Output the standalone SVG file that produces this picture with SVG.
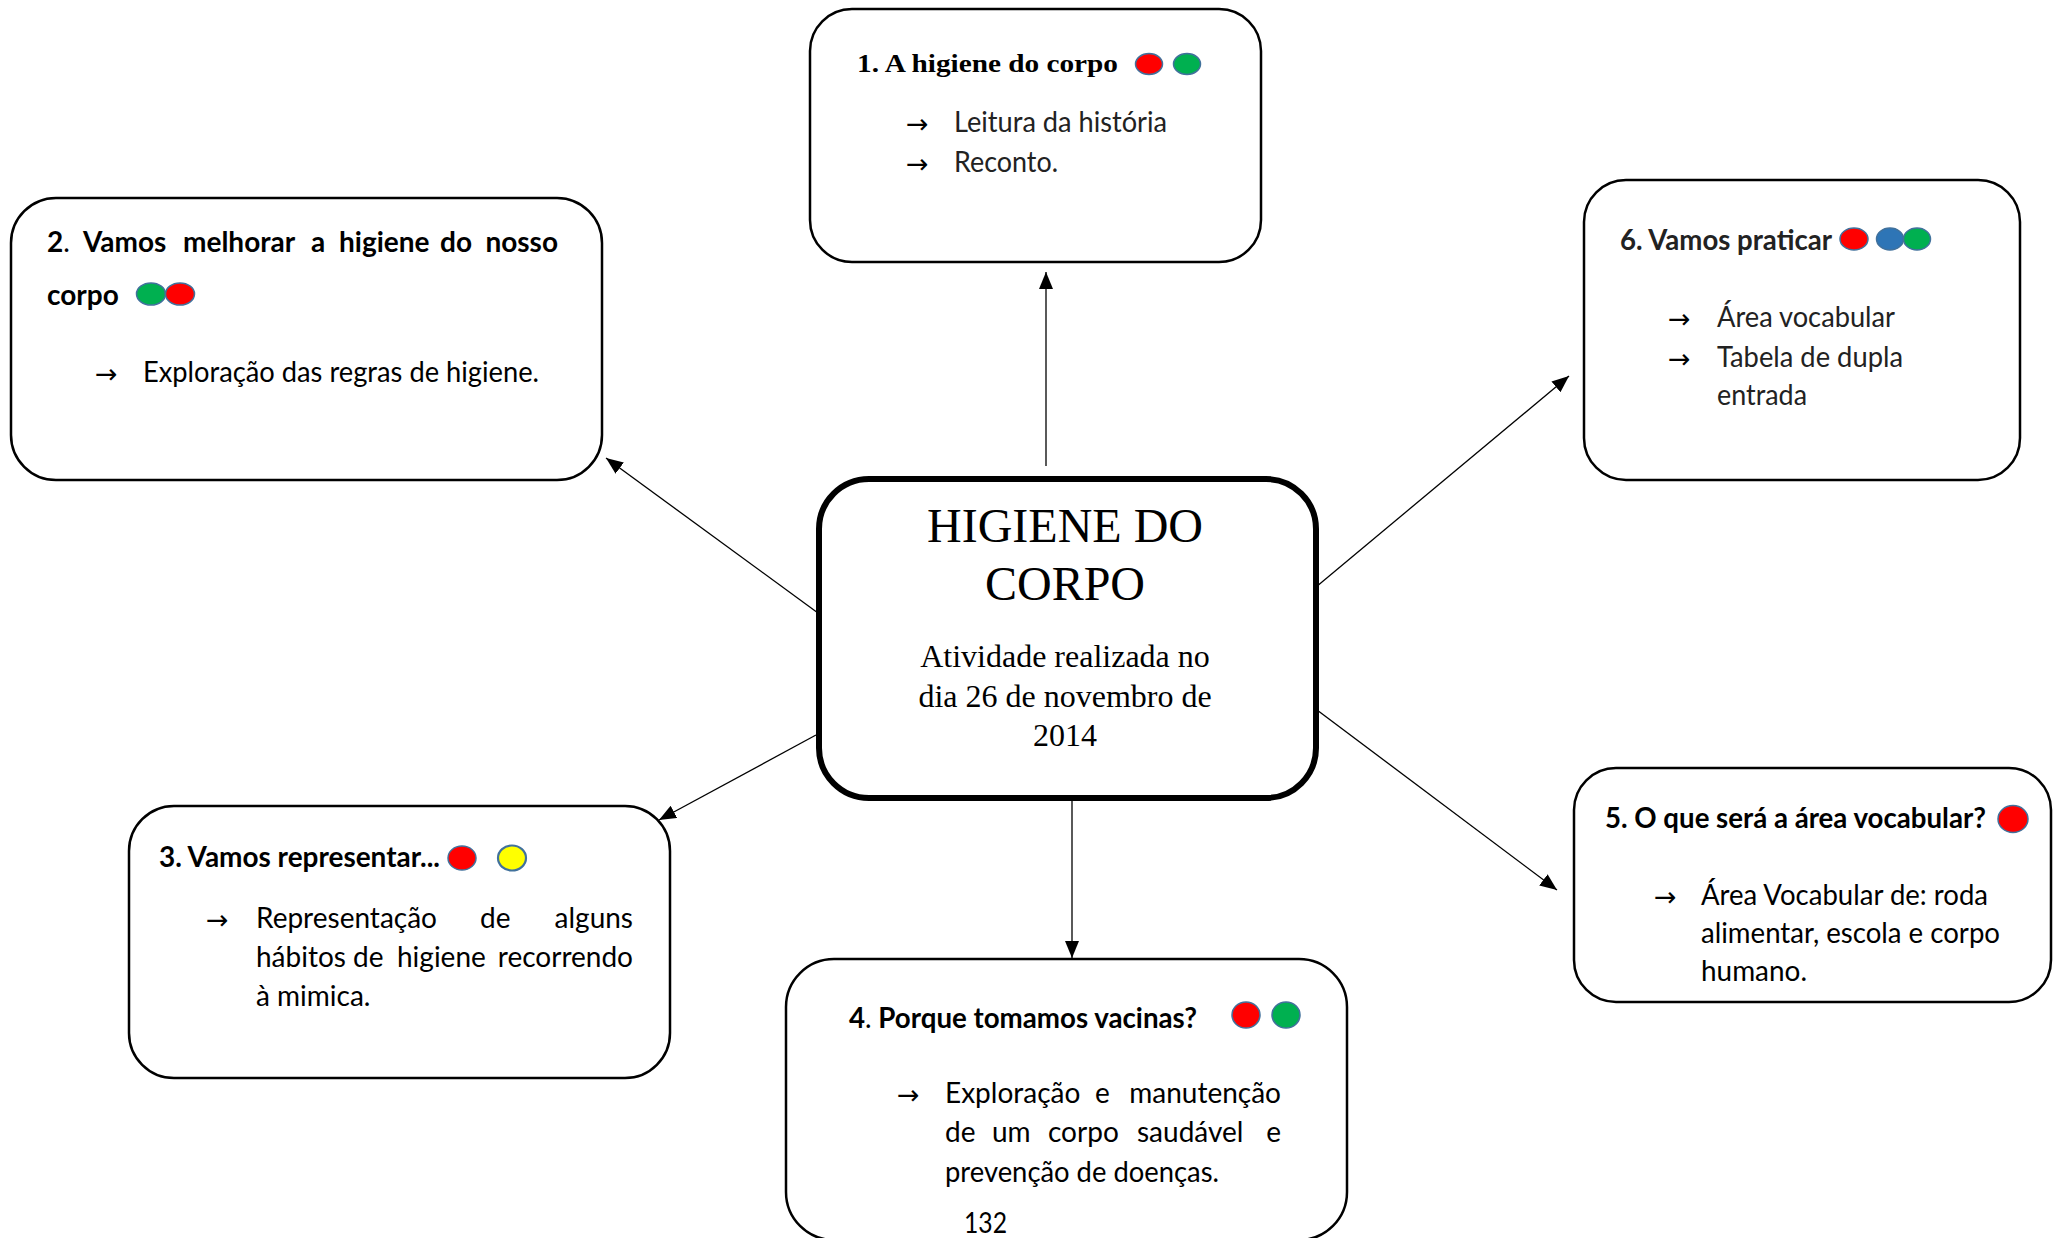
<svg xmlns="http://www.w3.org/2000/svg" width="2058" height="1238" viewBox="0 0 2058 1238">
<style>
.bg{fill:#fff}
.box{fill:#fff;stroke:#000;stroke-width:2.5}
.center{fill:#fff;stroke:#000;stroke-width:6}
.t{font-family:Lato,"Liberation Sans",sans-serif;font-size:28px;fill:#000}
.lt{fill:#222}
.b{font-weight:bold}
.n{font-weight:normal}
.arr{font-family:"DejaVu Sans",sans-serif;font-size:27px;fill:#000}
.serif{font-family:"Liberation Serif","Times New Roman",serif;fill:#000}
.conn{stroke:#000;stroke-width:1.3;fill:none;marker-end:url(#ah)}
.dot{stroke:#41719c;stroke-width:1.5}
.red{fill:#ff0000}
.green{fill:#00b050}
.blue{fill:#2e75b6}
.yellow{fill:#ffff00;stroke-width:2.2}
</style>
<defs>
<marker id="ah" markerWidth="17" markerHeight="14" refX="17" refY="7" orient="auto" markerUnits="userSpaceOnUse">
<path d="M0,0 L17,7 L0,14 z" fill="#000"/>
</marker>
</defs>
<rect class="bg" x="0" y="0" width="2058" height="1238"/>

<g id="connectors">
<line class="conn" x1="1046" y1="466" x2="1046" y2="272"/>
<line class="conn" x1="818" y1="613" x2="606" y2="458"/>
<line class="conn" x1="1316" y1="587" x2="1569" y2="376"/>
<line class="conn" x1="1317" y1="710" x2="1557" y2="890"/>
<line class="conn" x1="1072" y1="798" x2="1072" y2="958"/>
<line class="conn" x1="816" y1="735" x2="659" y2="820"/>
</g>

<g id="center">
<rect class="center" x="819" y="479" width="497" height="319" rx="50"/>
<text class="serif" x="1065" y="542" font-size="48" text-anchor="middle">HIGIENE DO</text>
<text class="serif" x="1065" y="600" font-size="48" text-anchor="middle">CORPO</text>
<text class="serif" x="1065" y="667" font-size="32" text-anchor="middle">Atividade realizada no</text>
<text class="serif" x="1065" y="707" font-size="32" text-anchor="middle">dia 26 de novembro de</text>
<text class="serif" x="1065" y="746" font-size="32" text-anchor="middle">2014</text>
</g>

<g id="node1">
<rect class="box" x="810" y="9" width="451" height="253" rx="42"/>
<text class="serif b" x="857" y="72" font-size="26" textLength="261" lengthAdjust="spacingAndGlyphs">1. A higiene do corpo</text>
<ellipse class="dot red" cx="1149" cy="64" rx="13.5" ry="10.5"/>
<ellipse class="dot green" cx="1187" cy="64" rx="13.5" ry="10.5"/>
<text class="arr" x="906" y="133">→</text>
<text class="t lt" x="954" y="132" textLength="213" lengthAdjust="spacingAndGlyphs">Leitura da história</text>
<text class="arr" x="906" y="173">→</text>
<text class="t lt" x="954" y="172" textLength="104" lengthAdjust="spacingAndGlyphs">Reconto.</text>
</g>

<g id="node2">
<rect class="box" x="11" y="198" width="591" height="282" rx="45"/>
<text class="t b" y="252"><tspan x="47">2<tspan class="n">.</tspan></tspan><tspan x="83">Vamos</tspan><tspan x="183">melhorar</tspan><tspan x="311">a</tspan><tspan x="339">higiene</tspan><tspan x="440">do</tspan></text>
<text class="t b" x="558" y="252" text-anchor="end">nosso</text>
<text class="t b" x="47" y="305">corpo</text>
<ellipse class="dot green" cx="151" cy="294" rx="14.5" ry="11"/>
<ellipse class="dot red" cx="180" cy="294" rx="14.5" ry="11"/>
<text class="arr" x="95" y="383">→</text>
<text class="t" x="143" y="382" textLength="396" lengthAdjust="spacingAndGlyphs">Exploração das regras de higiene.</text>
</g>

<g id="node3">
<rect class="box" x="129" y="806" width="541" height="272" rx="45"/>
<text class="t b" x="159" y="867" textLength="281" lengthAdjust="spacingAndGlyphs">3. Vamos representar...</text>
<ellipse class="dot red" cx="462" cy="858" rx="14" ry="12"/>
<ellipse class="dot yellow" cx="512" cy="858" rx="14" ry="12.5"/>
<text class="arr" x="206" y="929">→</text>
<text class="t" y="928"><tspan x="256">Representação</tspan><tspan x="480">de</tspan></text>
<text class="t" x="633" y="928" text-anchor="end">alguns</text>
<text class="t" y="967"><tspan x="256">hábitos</tspan><tspan x="353">de</tspan><tspan x="397">higiene</tspan></text>
<text class="t" x="633" y="967" text-anchor="end">recorrendo</text>
<text class="t" x="256" y="1006">à mimica.</text>
</g>

<g id="node4">
<rect class="box" x="786" y="959" width="561" height="281" rx="48"/>
<text class="t b" x="849" y="1028" textLength="348" lengthAdjust="spacingAndGlyphs">4<tspan class="n">.</tspan> Porque tomamos vacinas?</text>
<ellipse class="dot red" cx="1246" cy="1015" rx="14" ry="13"/>
<ellipse class="dot green" cx="1286" cy="1015" rx="14" ry="13"/>
<text class="arr" x="897" y="1104">→</text>
<text class="t" y="1103"><tspan x="945">Exploração</tspan><tspan x="1095">e</tspan></text>
<text class="t" x="1281" y="1103" text-anchor="end">manutenção</text>
<text class="t" y="1142"><tspan x="945">de</tspan><tspan x="992">um</tspan><tspan x="1048">corpo</tspan><tspan x="1137">saudável</tspan></text>
<text class="t" x="1281" y="1142" text-anchor="end">e</text>
<text class="t" x="945" y="1182" textLength="274" lengthAdjust="spacingAndGlyphs">prevenção de doenças.</text>
<text class="t" x="964" y="1233" textLength="43" lengthAdjust="spacingAndGlyphs">132</text>
</g>

<g id="node5">
<rect class="box" x="1574" y="768" width="477" height="234" rx="42"/>
<text class="t b" x="1605" y="828" textLength="381" lengthAdjust="spacingAndGlyphs">5. O que será a área vocabular?</text>
<ellipse class="dot red" cx="2013" cy="819" rx="15" ry="13.5"/>
<text class="arr" x="1654" y="906">→</text>
<text class="t" x="1701" y="905" textLength="287" lengthAdjust="spacingAndGlyphs">Área Vocabular de: roda</text>
<text class="t" x="1701" y="943" textLength="299" lengthAdjust="spacingAndGlyphs">alimentar, escola e corpo</text>
<text class="t" x="1701" y="981" textLength="106" lengthAdjust="spacingAndGlyphs">humano.</text>
</g>

<g id="node6">
<rect class="box" x="1584" y="180" width="436" height="300" rx="42"/>
<text class="t b lt" x="1620" y="250" textLength="212" lengthAdjust="spacingAndGlyphs">6. Vamos praticar</text>
<ellipse class="dot red" cx="1854" cy="239" rx="14" ry="11"/>
<ellipse class="dot blue" cx="1890" cy="239" rx="13.5" ry="11"/>
<ellipse class="dot green" cx="1917" cy="239" rx="13.5" ry="11"/>
<text class="arr" x="1668" y="328">→</text>
<text class="t lt" x="1717" y="327" textLength="178" lengthAdjust="spacingAndGlyphs">Área vocabular</text>
<text class="arr" x="1668" y="368">→</text>
<text class="t lt" x="1717" y="367" textLength="186" lengthAdjust="spacingAndGlyphs">Tabela de dupla</text>
<text class="t lt" x="1717" y="405" textLength="90" lengthAdjust="spacingAndGlyphs">entrada</text>
</g>
</svg>
